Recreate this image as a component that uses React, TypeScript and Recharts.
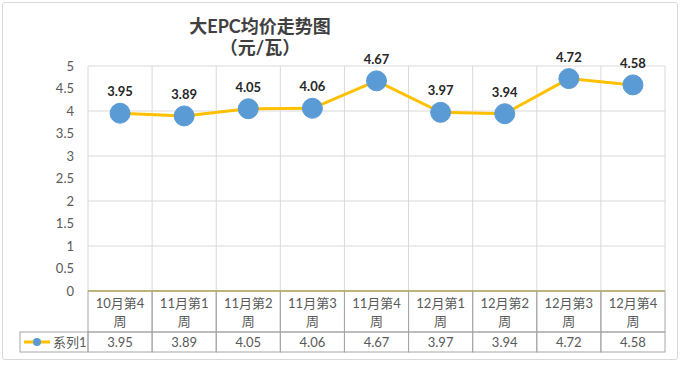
import React from "react";
import {
  LineChart,
  Line,
  XAxis,
  YAxis,
  CartesianGrid,
  LabelList,
  Customized,
} from "recharts";

const weeks = [
  "10月第4周",
  "11月第1周",
  "11月第2周",
  "11月第3周",
  "11月第4周",
  "12月第1周",
  "12月第2周",
  "12月第3周",
  "12月第4周",
];
const prices = [3.95, 3.89, 4.05, 4.06, 4.67, 3.97, 3.94, 4.72, 4.58];
const yTicks = [0, 0.5, 1, 1.5, 2, 2.5, 3, 3.5, 4, 4.5, 5];
const seriesName = "系列1";
const titleLines = ["大EPC均价走势图", "（元/瓦）"];

const data = weeks.map((w, i) => ({ week: w, price: prices[i] }));

const W = 680;
const H = 367;
const M = { top: 66, right: 15, left: 0, bottom: 0 };
const Y_W = 88;
const X_H = 76;
const PLOT_W = W - M.right - Y_W;
const BAND = PLOT_W / weeks.length;

const FONT = "Lato, 'Noto Sans CJK SC', sans-serif";
const GRID = "#d9d9d9";
const BORDER = "#a6a6a6";
const TEXT = "#595959";
const LINE = "#FFC000";
const DOT = "#5B9BD5";

function TableTick(props: any) {
  const { x, y, payload, index } = props;
  const label: string = payload.value;
  const top = label.slice(0, label.length - 1);
  const bottom = label.slice(-1);
  const left = x - BAND / 2;
  return (
    <g>
      <rect x={left} y={y} width={BAND} height={41} fill="none" stroke={BORDER} />
      <rect x={left} y={y + 41} width={BAND} height={20} fill="none" stroke={BORDER} />
      <text x={x} y={y + 17} textAnchor="middle" fontSize={13} fill={TEXT} fontFamily={FONT}>
        {top}
      </text>
      <text x={x} y={y + 35} textAnchor="middle" fontSize={13} fill={TEXT} fontFamily={FONT}>
        {bottom}
      </text>
      <text x={x} y={y + 56} textAnchor="middle" fontSize={13} fill={TEXT} fontFamily={FONT}>
        {prices[index].toFixed(2)}
      </text>
      {index === 0 && (
        <g>
          <rect x={left - 68} y={y + 41} width={68} height={20} fill="none" stroke={BORDER} />
          <line x1={left - 64} x2={left - 38} y1={y + 51} y2={y + 51} stroke={LINE} strokeWidth={3} />
          <circle cx={left - 51} cy={y + 51} r={4} fill={DOT} />
          <text x={left - 35} y={y + 56} fontSize={13} fill={TEXT} fontFamily={FONT}>
            {seriesName}
          </text>
        </g>
      )}
    </g>
  );
}

function Title() {
  return (
    <g>
      <text x={260} y={33} textAnchor="middle" fontSize={18} fontWeight="bold" fill="#404040" fontFamily={FONT}>
        {titleLines[0]}
      </text>
      <text x={260} y={54} textAnchor="middle" fontSize={18} fontWeight="bold" fill="#404040" fontFamily={FONT}>
        {titleLines[1]}
      </text>
    </g>
  );
}

export default function App() {
  return (
    <div style={{ position: "absolute", left: 0, top: 0, width: W, height: H, background: "#fff" }}>
      <div
        style={{
          position: "absolute",
          left: 2,
          top: 2,
          width: 674,
          height: 356,
          border: "1px solid #d9d9d9",
          borderRadius: 3,
        }}
      />
      <div style={{ position: "absolute", left: 0, top: 0 }}>
        <LineChart width={W} height={H} data={data} margin={M}>
          <CartesianGrid
            stroke={GRID}
            verticalCoordinatesGenerator={({ offset }: any) =>
              weeks.map((_, i) => offset.left + i * (offset.width / weeks.length)).concat(offset.left + offset.width)
            }
          />
          <XAxis
            dataKey="week"
            height={X_H}
            interval={0}
            padding={{ left: BAND / 2, right: BAND / 2 }}
            tickLine={false}
            tickSize={0}
            tickMargin={0}
            axisLine={{ stroke: "#d6bf55", strokeWidth: 2 }}
            tick={<TableTick />}
          />
          <YAxis
            width={Y_W}
            domain={[0, 5]}
            ticks={yTicks}
            axisLine={false}
            tickLine={false}
            tickMargin={8}
            tick={{ fontSize: 13, fill: TEXT, fontFamily: FONT }}
          />
          <Line
            dataKey="price"
            stroke={LINE}
            strokeWidth={3}
            dot={{ r: 10, fill: DOT, stroke: DOT, strokeWidth: 1 }}
            isAnimationActive={false}
          >
            <LabelList
              dataKey="price"
              position="top"
              offset={17}
              formatter={(v: any) => Number(v).toFixed(2)}
              style={{ fontSize: 13, fontWeight: "bold", fill: "#262626", fontFamily: FONT }}
            />
          </Line>
          <Customized component={Title} />
        </LineChart>
      </div>
    </div>
  );
}
